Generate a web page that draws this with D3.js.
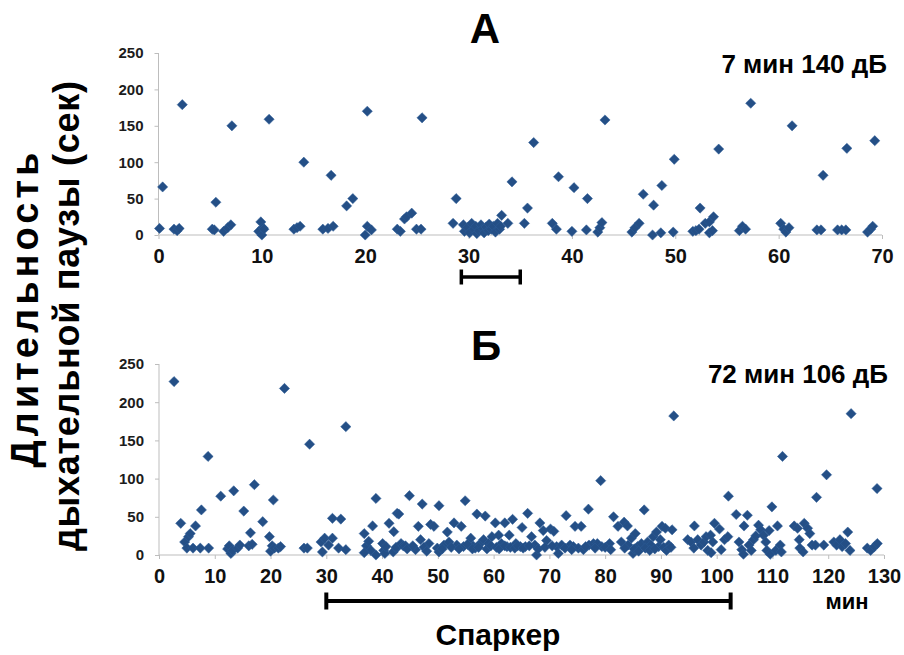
<!DOCTYPE html>
<html>
<head>
<meta charset="utf-8">
<script src="https://cdn.jsdelivr.net/npm/d3@7"></script>
<style>
  html, body { margin: 0; padding: 0; background: #fff; }
  svg { display: block; font-family: "Liberation Sans", Arial, sans-serif; font-weight: bold; }
</style>
</head>
<body>
<svg id="chart" width="904" height="655"></svg>
<script>
// panel A: 7 min 140 dB
var timeA = [0.1, 0.4, 1.5, 1.8, 2.0, 2.3, 5.2, 5.4, 5.55, 6.3, 6.7, 7.0, 7.1, 9.7, 9.9, 10.0, 10.1, 10.2, 10.7,
  13.1, 13.4, 13.7, 14.06, 15.9, 16.4, 16.9, 16.7, 18.2, 18.8, 20.0, 20.2, 20.6, 20.2, 23.1,
  23.4, 23.8, 24.0, 24.5, 24.96, 25.4, 25.5, 28.5, 28.8,
  29.5, 29.6, 29.9, 30.1, 30.3, 30.5, 30.7, 30.8, 31.0, 31.2, 31.4, 31.5, 31.7, 31.9, 32.0, 32.2, 32.4, 32.6, 32.8, 33.0, 33.1,
  33.2, 33.8, 34.2, 35.4, 35.7, 36.3, 38.1, 38.5, 38.7, 40.0, 40.2, 41.4, 41.5, 42.5, 42.7, 42.9, 43.2,
  45.8, 46.1, 46.5, 46.9, 47.8, 47.9, 48.6, 48.7, 49.8, 49.9, 51.7, 52.0, 52.3, 52.4, 52.9,
  53.3, 53.3, 53.6, 53.7, 54.2, 56.2, 56.5, 56.8, 57.3, 60.2, 60.5, 60.7, 61.0, 61.3,
  63.7, 64.1, 64.3, 65.7, 66.1, 66.5, 66.6, 68.6, 68.9, 69.1, 69.3];
var pauseA = [9, 66, 8, 6, 9, 179, 8, 7, 45, 5, 10, 14, 150, 5, 18, 0, 10, 8, 159,
  8, 10, 12, 100, 8, 9, 12, 82, 40, 50, 0, 12, 7, 170, 8,
  5, 22, 25, 30, 8, 8, 161, 16, 50,
  14, 5, 10, 3, 16, 8, 12, 2, 6, 14, 9, 3, 11, 6, 15, 8, 12, 4, 16, 8, 12,
  27, 16, 73, 16, 37, 127, 16, 8, 80, 5, 65, 7, 50, 4, 10, 17, 158,
  4, 10, 16, 56, 0, 41, 3, 68, 4, 104, 5, 6, 8, 37, 16,
  18, 3, 6, 25, 118, 6, 12, 8, 181, 16, 8, 4, 10, 150,
  7, 7, 82, 7, 7, 7, 119, 4, 8, 12, 129.5];

// panel B: 72 min 106 dB
var timeB = [2.7, 3.9, 4.6, 5.0, 5.3, 5.6, 6.1, 6.55, 7.4, 7.6, 8.8, 8.9, 11.07, 12.3, 12.6, 12.9, 13.2, 13.4,
  14.1, 14.5, 15.2, 16.1, 16.4, 16.7, 17.1, 18.6, 19.8, 20.0, 20.3, 20.7, 20.5, 21.4, 21.8, 22.5,
  26.0, 26.6, 27.0, 29.05, 29.3, 29.7, 30.4, 31.1, 31.1, 32.2, 32.6, 33.5, 33.5,
  36.8, 37.2, 37.6, 38.0, 36.8, 38.3, 38.9, 38.9, 40.1, 40.3, 40.5, 40.7, 41.25, 42.1, 42.7, 42.0, 42.6,
  43.0, 42.5, 43.4, 43.8, 44.2, 44.9, 46.0, 46.5, 46.9, 47.2, 48.4, 48.7, 49.3, 50.2, 49.9, 50.2,
  51.1, 51.7, 52.0, 52.9, 53.4, 54.2, 54.6, 54.9, 55.9, 56.3, 56.7, 57.0,
  57.6, 58.2, 58.5, 59.1, 59.7, 60.3, 60.9, 61.4, 62.0, 62.4, 62.8, 63.4, 64.0, 64.8, 65.1, 65.7, 66.1,
  66.8, 67.4, 67.7, 68.3, 68.9, 69.5, 70.2, 70.8, 71.3, 71.6, 72.2, 73.0, 73.7, 74.3, 74.6, 75.2, 75.7, 76.1,
  77.0, 77.1, 77.9, 78.6, 79.2, 79.4,
  80.8, 81.5, 82.3, 82.9, 83.4, 84.0, 84.1, 84.7, 85.0, 85.4, 85.8, 86.5, 87.0, 87.6, 88.2, 88.6, 89.2, 89.6,
  89.9, 90.2, 90.8, 91.4, 92.0, 92.3, 94.8,
  44.5, 45.5, 47.5, 48.0, 50.8, 52.4, 53.8, 55.3, 56.2, 57.3, 58.8, 59.5, 60.5, 61.0, 62.0, 63.0, 63.8, 64.3,
  65.3, 66.4, 68.0, 69.2, 70.5, 72.8, 74.0, 76.5, 78.2, 80.0, 81.0, 83.5, 85.2, 86.0, 87.2, 88.0, 88.9, 90.5, 91.0, 91.8,
  95.4, 95.9, 96.0, 96.6, 97.2, 97.7, 98.1, 98.4, 98.9, 99.3, 99.0, 99.6, 100.5, 100.8, 101.4, 102.0, 102.1, 103.5,
  104.0, 104.5, 104.8, 104.9, 105.5, 105.8, 106.2, 106.6, 107.0, 107.5, 107.9, 108.4, 108.8, 109.0, 109.4, 109.6, 109.9,
  110.6, 110.9, 111.4, 111.6, 111.8, 113.9, 114.5, 114.8, 114.9, 115.5, 115.7, 116.3, 116.7, 117.1, 117.7, 117.9,
  119.2, 119.7, 121.0, 121.5, 122.1, 122.5, 123.1, 123.5, 123.9, 124.1, 127.0, 127.6, 128.3, 128.8, 128.75];
var pauseB = [227, 41.5, 17, 9, 24, 28, 9, 38, 9, 59, 129, 9, 77, 8, 12, 2, 6, 84,
  9, 13, 57.5, 12, 29, 14, 92, 43.6, 24, 5, 12, 9, 72, 9, 11, 218,
  9, 9, 145, 17, 4, 22, 13, 48, 22, 9, 47, 168, 7,
  28, 12, 18, 6, 3, 38, 74, 0, 15, 6, 2, 11, 41.5, 30.5, 54.5, 4, 9,
  53.6, 10, 15, 12, 12, 77.6, 7, 37.5, 20, 66.7, 15, 40, 37.5, 64.5, 9, 4,
  13, 30, 17, 42, 13, 37.5, 11, 71, 22, 12, 9, 53.6,
  15, 20, 51, 15, 24, 42, 26, 15, 42, 11, 26, 46.7, 15, 11, 36, 11, 54.5,
  24, 13, 0, 42, 32, 19, 34, 31, 11, 2, 13, 51.5, 13, 11, 37.5, 9, 37.5, 7,
  60, 13, 15, 15, 97.3, 11,
  15, 50, 37.5, 17, 43, 38, 13, 22, 2, 28, 11, 15, 59, 17, 13, 24, 30, 11,
  20, 37.5, 35, 13, 33, 182, 20,
  8, 12, 10, 5, 8, 10, 8, 14, 8, 10, 8, 12, 10, 8, 12, 10, 9, 12,
  9, 12, 8, 10, 12, 9, 7, 11, 9, 10, 7, 9, 8, 5, 9, 6, 8, 10, 6, 10,
  17, 9, 38, 20, 13, 17, 24, 6, 26, 17, 3, 41.5, 34, 7, 20, 24, 77, 53,
  17, 7, 1, 38, 52, 13, 6, 20, 25, 39, 33, 26, 17, 6, 32, 1, 63,
  6, 38, 13, 4, 129, 38, 35, 20, 9, 4, 41.5, 35, 28, 13, 13, 75.5,
  13, 105, 17, 13, 20, 11, 15, 30, 6, 185, 9, 6, 11, 15, 87];

var yTicks = [0, 50, 100, 150, 200, 250];
var xTicksA = [0, 10, 20, 30, 40, 50, 60, 70];
var xTicksB = [0, 10, 20, 30, 40, 50, 60, 70, 80, 90, 100, 110, 120, 130];
var barA = [29.3, 35];
var barB = [30, 102.5];

var svg = d3.select('#chart');
var markColor = '#244f86';
var axisColor = '#bdbdbd';

function drawPanel(cfg) {
  var x = d3.scaleLinear().domain(cfg.xDomain).range(cfg.xRange);
  var y = d3.scaleLinear().domain([0, 250]).range(cfg.yRange);
  var g = svg.append('g').attr('class', 'panel');

  var xAxis = d3.axisBottom(x).tickValues(cfg.xTicks).tickSize(4).tickFormat(d3.format('d'));
  var gx = g.append('g').attr('transform', 'translate(0,' + y(0) + ')').call(xAxis);
  gx.select('.domain').attr('stroke', axisColor).attr('d', 'M' + x.range()[0] + ',0H' + x.range()[1]);
  gx.selectAll('.tick line').attr('stroke', axisColor);
  gx.selectAll('.tick text')
    .attr('font-size', '20px').attr('fill', '#111').attr('y', 0).attr('dy', null)
    .attr('transform', 'translate(0,' + cfg.xLabelOffset + ')');

  var yAxis = d3.axisLeft(y).tickValues(yTicks).tickSize(4).tickPadding(11);
  var gy = g.append('g').attr('transform', 'translate(' + x(0) + ',0)').call(yAxis);
  gy.select('.domain').attr('stroke', axisColor).attr('d', 'M0,' + y.range()[0] + 'V' + y.range()[1]);
  gy.selectAll('.tick line').attr('stroke', axisColor);
  gy.selectAll('.tick text').attr('font-size', '15px').attr('fill', '#1c1c1c');
  g.selectAll('g').attr('font-family', null).attr('font-size', null);

  var diamond = d3.symbol().type(d3.symbolSquare).size(52);
  g.append('g').selectAll('path')
    .data(d3.range(cfg.time.length))
    .enter().append('path')
    .attr('d', diamond)
    .attr('fill', markColor)
    .attr('stroke', '#2e5d98')
    .attr('stroke-width', 0.5)
    .attr('transform', function(i) {
      return 'translate(' + x(cfg.time[i]) + ',' + y(cfg.pause[i]) + ') rotate(45)';
    });

  // stimulation bar under the axis
  var bar = g.append('g').attr('stroke', '#000').attr('stroke-width', cfg.barWidth);
  bar.append('line')
    .attr('x1', x(cfg.bar[0])).attr('x2', x(cfg.bar[1]))
    .attr('y1', cfg.barY).attr('y2', cfg.barY);
  cfg.bar.forEach(function(v) {
    bar.append('line')
      .attr('x1', x(v)).attr('x2', x(v))
      .attr('y1', cfg.barY - cfg.barTick).attr('y2', cfg.barY + cfg.barTick);
  });

  g.append('text')
    .attr('x', cfg.titleX).attr('y', cfg.titleY)
    .attr('text-anchor', 'middle').attr('font-size', '42px')
    .text(cfg.title);
  g.append('text')
    .attr('x', cfg.noteX).attr('y', cfg.noteY)
    .attr('text-anchor', 'end').attr('font-size', '26px')
    .text(cfg.note);

  return x;
}

drawPanel({
  time: timeA, pause: pauseA, xDomain: [0, 70], xRange: [158.5, 882], yRange: [235, 53],
  xTicks: xTicksA, xLabelOffset: 28, bar: barA, barY: 277, barTick: 7.5, barWidth: 3.5,
  title: 'А', titleX: 485, titleY: 43, note: '7 мин 140 дБ', noteX: 887, noteY: 73
});

drawPanel({
  time: timeB, pause: pauseB, xDomain: [0, 130], xRange: [159, 884], yRange: [555, 364],
  xTicks: xTicksB, xLabelOffset: 28, bar: barB, barY: 601, barTick: 8.5, barWidth: 4,
  title: 'Б', titleX: 486, titleY: 360, note: '72 мин 106 дБ', noteX: 888, noteY: 383
});

svg.append('text')
  .attr('x', 847).attr('y', 609)
  .attr('text-anchor', 'middle').attr('font-size', '22px')
  .text('мин');

svg.append('text')
  .attr('x', 498).attr('y', 645)
  .attr('text-anchor', 'middle').attr('font-size', '30px')
  .text('Спаркер');

var yLabel = svg.append('g').attr('text-anchor', 'middle');
yLabel.append('text')
  .attr('transform', 'translate(38,310) rotate(-90)')
  .attr('font-size', '38px')
  .attr('textLength', 315).attr('lengthAdjust', 'spacing')
  .text('Длительность');
yLabel.append('text')
  .attr('transform', 'translate(79,316) rotate(-90)')
  .attr('font-size', '36px')
  .attr('textLength', 470).attr('lengthAdjust', 'spacing')
  .text('дыхательной паузы (сек)');
</script>
</body>
</html>
